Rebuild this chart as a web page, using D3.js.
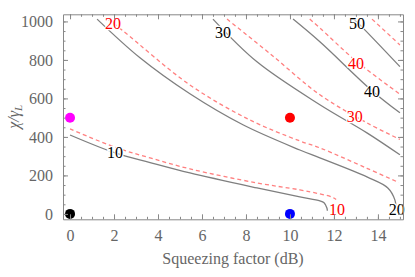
<!DOCTYPE html>
<html>
<head>
<meta charset="utf-8">
<script src="https://cdn.jsdelivr.net/npm/d3@7"></script>
<style>
  body { margin: 0; background: #fff; }
  svg { display: block; }
  .frame text { font-family: "Liberation Serif", "DejaVu Serif", serif; font-size: 16px; fill: #666; }
  .frame path, .frame line { stroke: #888; }
</style>
</head>
<body>
<script>
// contour lines, [squeezing dB, chi/gammaL]
const gray10 = [[0, 410], [2.05, 317], [3.64, 267], [5.45, 213], [8.5, 135], [10.45, 88], [11.36, 68], [11.55, 58], [11.68, 31], [11.7, 16]];
const red10 = [[0, 442], [2.05, 346], [3.64, 291], [5.45, 234], [8.5, 161], [10.45, 125], [11.36, 104], [11.9, 88], [12.1, 75]];
const gray20 = [[1.23, 1012], [3.18, 811], [5.45, 624], [7.86, 463], [10.45, 332], [11.36, 291], [13.5, 192], [14.45, 135], [14.77, 73], [14.83, 15]];
const red20 = [[1.73, 1012], [2.41, 951], [5.45, 670], [8.18, 488], [10.45, 379], [11.36, 343], [13.5, 237], [14.95, 163]];
const gray30 = [[6.5, 1012], [8.5, 790], [11.36, 567], [13.5, 421], [15, 307]];
const red30 = [[7.14, 1012], [9.1, 832], [11.36, 619], [13.5, 473], [15, 387]];
const gray40 = [[10.14, 1012], [11.36, 894], [13.73, 640], [15, 525]];
const red40 = [[10.9, 1012], [11.36, 966], [13.0, 795], [15, 622]];
const gray50 = [[12.9, 1012], [13.18, 982], [15, 765]];
const red50 = [[13.73, 1012], [15, 878]];

const grayLabels = [[2.05, 317, '10'], [14.86, 21, '20'], [6.95, 945, '30'], [13.73, 634, '40'], [13.05, 992, '50']];
const redLabels = [[12.14, 21, '10'], [1.95, 992, '20'], [12.95, 504, '30'], [13.0, 784, '40']];

const pointX = [0, 10, 0, 10];
const pointY = [0, 0, 500, 500];
const pointColors = ['#000000', '#0000ff', '#ff00ff', '#ff0000'];

const xMajor = [0, 2, 4, 6, 8, 10, 12, 14];
const yMajor = [0, 200, 400, 600, 800, 1000];

const margin = { top: 14.3, right: 12, bottom: 57.7, left: 63 };
const W = 415, H = 277;
const width = W - margin.left - margin.right;
const height = H - margin.top - margin.bottom;

const x = d3.scaleLinear().domain([-0.32, 15.14]).range([0, width]);
const y = d3.scaleLinear().domain([-28, 1037]).range([height, 0]);

const svg = d3.select('body').append('svg')
    .attr('width', W)
    .attr('height', H);

const g = svg.append('g')
    .attr('transform', `translate(${margin.left},${margin.top})`);

const line = d3.line()
    .x(d => x(d[0]))
    .y(d => y(d[1]))
    .curve(d3.curveCatmullRom.alpha(0.5));

[gray10, gray20, gray30, gray40, gray50].forEach((pts) => {
    g.append('path')
        .attr('d', line(pts))
        .attr('fill', 'none')
        .attr('stroke', '#7f7f7f')
        .attr('stroke-width', 1.3);
});

[red10, red20, red30, red40, red50].forEach((pts) => {
    g.append('path')
        .attr('d', line(pts))
        .attr('fill', 'none')
        .attr('stroke', '#ff8080')
        .attr('stroke-width', 1.3)
        .attr('stroke-dasharray', '4,3');
});

// contour labels
function addLabels(list, color) {
    g.selectAll(null)
        .data(list)
        .enter().append('text')
        .attr('x', d => x(d[0]))
        .attr('y', d => y(d[1]))
        .attr('dy', '0.35em')
        .attr('text-anchor', 'middle')
        .style('font-family', '"Liberation Serif", serif')
        .style('font-size', '16px')
        .style('paint-order', 'stroke')
        .attr('stroke', '#fff')
        .attr('stroke-width', 2.5)
        .attr('fill', color)
        .text(d => d[2]);
}
addLabels(grayLabels, '#000');
addLabels(redLabels, '#ff0000');

g.selectAll('circle')
    .data(pointX)
    .enter().append('circle')
    .attr('cx', d => x(d))
    .attr('cy', (d, i) => y(pointY[i]))
    .attr('r', 5)
    .attr('fill', (d, i) => pointColors[i]);

// frame with inward ticks on all sides
const xMinor = d3.range(0, 15.01, 0.5);
const yMinor = d3.range(0, 1000.1, 50);

function frame(axisFn, scale, major, minor, transform, labels) {
    const a = g.append('g').attr('class', 'frame').attr('transform', transform);
    a.call(axisFn(scale).tickValues(minor).tickSize(-2.5).tickSizeOuter(0).tickFormat(''));
    const b = g.append('g').attr('class', 'frame').attr('transform', transform);
    b.call(axisFn(scale).tickValues(major).tickSize(-5).tickSizeOuter(0).tickPadding(10)
        .tickFormat(labels ? d3.format('d') : ''));
    b.select('.domain').remove();
    a.selectAll('text').remove();
    return b;
}

frame(d3.axisBottom, x, xMajor, xMinor, `translate(0,${height})`, true);
frame(d3.axisTop, x, xMajor, xMinor, 'translate(0,0)', false);
frame(d3.axisLeft, y, yMajor, yMinor, 'translate(0,0)', true);
frame(d3.axisRight, y, yMajor, yMinor, `translate(${width},0)`, false);

svg.selectAll('.frame text').style('font-family', '"Liberation Serif", serif').style('font-size', '16px');

// axis titles
svg.append('text')
    .attr('x', margin.left + width / 2)
    .attr('y', 264)
    .attr('text-anchor', 'middle')
    .style('font-family', '"Liberation Serif", serif')
    .style('font-size', '16px')
    .attr('fill', '#666')
    .text('Squeezing factor (dB)');

const yt = svg.append('text')
    .attr('transform', `translate(19,${margin.top + height / 2}) rotate(-90)`)
    .attr('text-anchor', 'middle')
    .style('font-family', '"Liberation Serif", serif')
    .style('font-size', '16px')
    .style('font-style', 'italic')
    .attr('fill', '#666');
yt.append('tspan').text('χ/γ');
yt.append('tspan').attr('dy', 3).style('font-size', '11px').text('L');
</script>
</body>
</html>
